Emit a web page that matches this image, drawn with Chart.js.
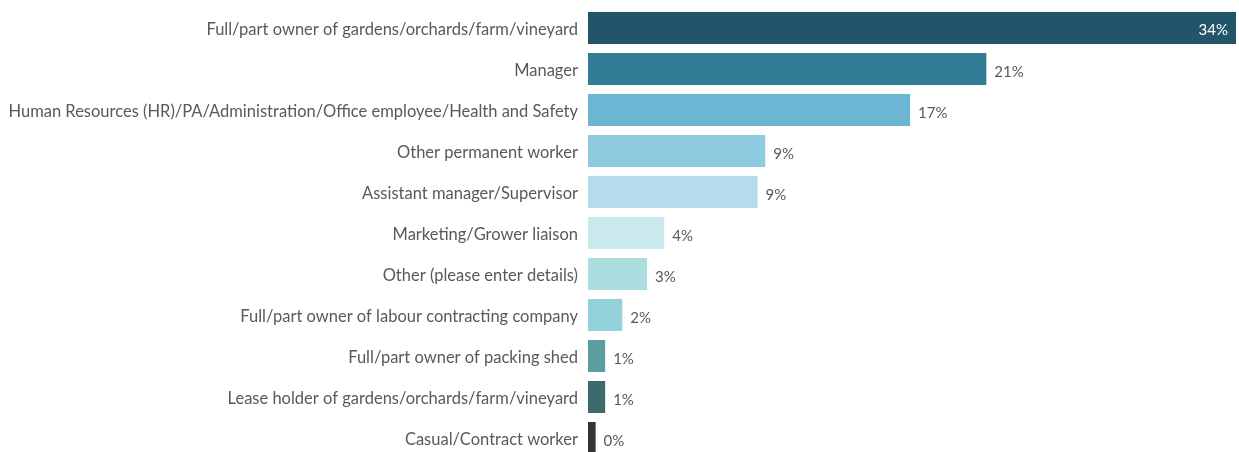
<!DOCTYPE html>
<html>
<head>
<meta charset="utf-8">
<script src="https://cdn.jsdelivr.net/npm/chart.js@4.4.1/dist/chart.umd.min.js"></script>
<style>
  html, body { margin: 0; padding: 0; background: #ffffff; overflow: hidden; }
  #wrap { position: relative; width: 1239px; height: 466px; }
</style>
</head>
<body>
<div id="wrap"><canvas id="chart"></canvas></div>
<script>
// Role of respondents, share of all responses (%)
const categories = [
  "Full/part owner of gardens/orchards/farm/vineyard",
  "Manager",
  "Human Resources (HR)/PA/Administration/Office employee/Health and Safety",
  "Other permanent worker",
  "Assistant manager/Supervisor",
  "Marketing/Grower liaison",
  "Other (please enter details)",
  "Full/part owner of labour contracting company",
  "Full/part owner of packing shed",
  "Lease holder of gardens/orchards/farm/vineyard",
  "Casual/Contract worker"
];
const shares = [34.0, 20.9, 16.9, 9.3, 8.9, 4.0, 3.1, 1.8, 0.9, 0.9, 0.4];
const barColors = [
  "#22556a", "#317b94", "#6cb6d3", "#8ecbdf", "#b4dceb",
  "#c9e9ec", "#acdee0", "#93d2da", "#5b9ea0", "#3d6a6c", "#333333"
];

const FONT = "Lato, 'Open Sans', sans-serif";
const TEXT = "#595959";

// Percent labels beside each bar; the longest bar carries its label inside
const valueLabels = {
  id: "valueLabels",
  afterDatasetsDraw(chart) {
    const ctx = chart.ctx;
    const meta = chart.getDatasetMeta(0);
    ctx.save();
    ctx.font = "15px " + FONT;
    ctx.textBaseline = "middle";
    meta.data.forEach((bar, i) => {
      const txt = Math.round(shares[i]) + "%";
      if (i === 0) {
        ctx.fillStyle = "#ffffff";
        ctx.textAlign = "right";
        ctx.fillText(txt, bar.x - 8, bar.y + 2);
      } else {
        ctx.fillStyle = TEXT;
        ctx.textAlign = "left";
        ctx.fillText(txt, bar.x + 8, bar.y + 3);
      }
    });
    ctx.restore();
  }
};

new Chart(document.getElementById("chart"), {
  type: "bar",
  data: {
    labels: categories,
    datasets: [{
      data: shares,
      backgroundColor: barColors,
      borderWidth: 0,
      barPercentage: 0.78,
      categoryPercentage: 1.0
    }]
  },
  options: {
    indexAxis: "y",
    responsive: true,
    maintainAspectRatio: false,
    animation: false,
    layout: { padding: { top: 7.5, bottom: 7.5, left: 0, right: 3 } },
    plugins: {
      legend: { display: false },
      tooltip: { enabled: false }
    },
    scales: {
      x: {
        display: false,
        min: 0,
        max: 34
      },
      y: {
        grid: { display: false, drawTicks: false },
        border: { display: false },
        ticks: {
          color: TEXT,
          padding: 10,
          labelOffset: 2,
          font: { family: FONT, size: 16.5 }
        },
        afterFit(scale) {
          scale.width = 588;
          scale.paddingTop = 0;
          scale.paddingBottom = 0;
        }
      }
    }
  },
  plugins: [valueLabels]
});
</script>
</body>
</html>
